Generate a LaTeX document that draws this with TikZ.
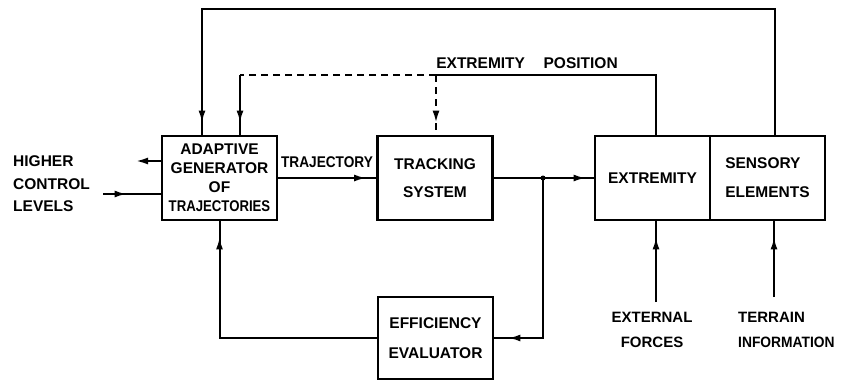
\documentclass[tikz,border=0pt]{standalone}
\usepackage{fontspec}
\setmainfont{Liberation Sans}
\usetikzlibrary{arrows.meta,decorations.markings}
\tikzset{
  blk/.style={draw=black,line width=2.8pt,minimum width=115pt,minimum height=84pt,inner sep=0pt,align=center,font=\bfseries\fontsize{15.5}{19}\selectfont},
  lbl/.style={inner sep=0pt,font=\bfseries\fontsize{15.5}{19}\selectfont},
  conn/.style={line width=2pt},
  tipend/.style={decoration={markings,mark=at position #1 with {\arrow{Latex[length=12pt,width=7pt]}}},postaction=decorate},
  dsh/.style={dash pattern=on 7pt off 5pt}
}
\begin{document}
\begin{tikzpicture}[x=1pt,y=-1pt]
\useasboundingbox (0,0) rectangle (842,381);
% boxes
\node[blk] (gen) at (219.5,178) {ADAPTIVE\\GENERATOR\\OF\\\scalebox{0.85}[1]{TRAJECTORIES}};
\node[blk,font=\bfseries\fontsize{15.5}{28}\selectfont] (trk) at (435,178) {TRACKING\\SYSTEM};
\node[blk] (ext) at (652.5,178) {EXTREMITY};
\node[blk,font=\bfseries\fontsize{15.5}{29}\selectfont,align=left] (sen) at (767.5,178) {SENSORY\\ELEMENTS};
\node[blk,minimum height=82pt,font=\bfseries\fontsize{15.5}{30}\selectfont] (eff) at (435.5,338) {EFFICIENCY\\EVALUATOR};
% labels
\node[lbl,align=left,anchor=west,font=\bfseries\fontsize{15.5}{22.5}\selectfont] (hcl) at (13,184) {HIGHER\\CONTROL\\LEVELS};
\node[lbl] (trj) at (327,162) {\scalebox{0.88}[1]{TRAJECTORY}};
\node[lbl] (exp) at (527,63) {EXTREMITY\hspace{1.2em}POSITION};
\node[lbl,align=center,font=\bfseries\fontsize{15}{25}\selectfont] (exf) at (652,330) {EXTERNAL\\FORCES};
\node[lbl,align=left,anchor=west,font=\bfseries\fontsize{15}{25}\selectfont] (ter) at (738,330) {TERRAIN\\\scalebox{0.92}[1]{INFORMATION}};
% coordinates
\coordinate (tl) at (202,9);
\coordinate (tr) at (775,9);
\coordinate (ml) at (240,75);
\coordinate (mr) at (656,75);
\coordinate (mm) at (436,75);
\coordinate (jn) at (543,178);
\coordinate (hout) at (136,161);
\coordinate (hin) at (103,194);
\coordinate (efs) at (656,302);
\coordinate (trs) at (774,297);
% top loop
\draw[conn,tipend=-12pt] (tr |- sen.north) -- (tr) -- (tl) -- (tl |- gen.north);
% extremity position loop
\draw[conn] (mr |- ext.north) -- (mr) -- (mm);
\draw[conn,dsh] (mm) -- (ml |- mm);
\draw[conn,tipend=-12pt] (ml) -- (ml |- gen.north);
\draw[conn,dsh,tipend=-12pt] (mm) -- (mm |- trk.north);
% forward path
\draw[conn,tipend=-10pt] (gen.east) -- (trk.west);
\draw[conn,tipend=-8pt] (trk.east) -- (ext.west);
\fill (jn) circle (2.5pt);
\draw[conn,tipend=-14pt] (jn) |- (eff.east);
\draw[conn,tipend=-16pt] (eff.west) -| (gen.south);
% higher control levels
\draw[conn,-{Latex[length=12pt,width=7pt]}] (gen.west |- hout) -- (hout);
\draw[conn,tipend=-34pt] (hin) -- (gen.west |- hin);
% bottom inputs
\draw[conn,tipend=-16pt] (efs) -- (efs |- ext.south);
\draw[conn,tipend=-16pt] (trs) -- (trs |- sen.south);
\end{tikzpicture}
\end{document}
